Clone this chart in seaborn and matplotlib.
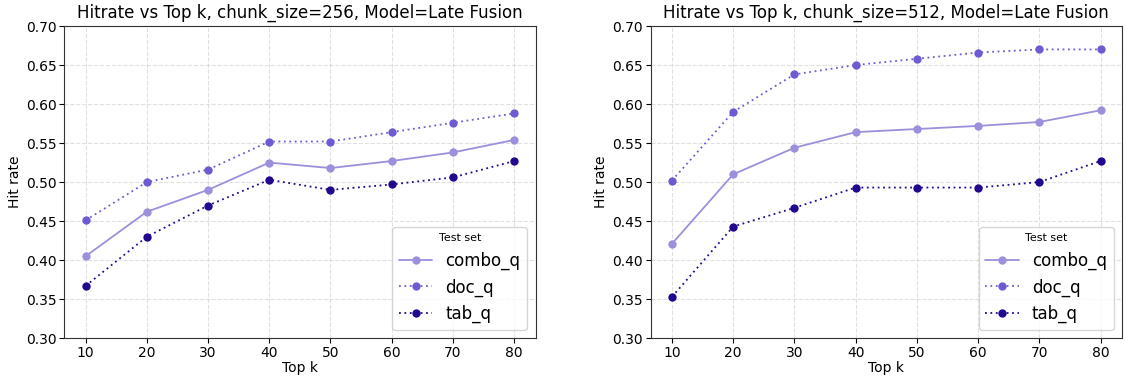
import pandas as pd
import numpy as np
import matplotlib
matplotlib.use("Agg")
import matplotlib.pyplot as plt
import seaborn as sns

top_k = [10, 20, 30, 40, 50, 60, 70, 80]
test_sets = ["combo_q", "doc_q", "tab_q"]

# chunk_size=256
combo_256 = [0.405, 0.462, 0.490, 0.525, 0.518, 0.527, 0.538, 0.554]
doc_256 = [0.451, 0.500, 0.516, 0.552, 0.552, 0.564, 0.576, 0.588]
tab_256 = [0.367, 0.430, 0.470, 0.503, 0.490, 0.497, 0.506, 0.527]

# chunk_size=512
combo_512 = [0.421, 0.510, 0.544, 0.564, 0.568, 0.572, 0.577, 0.592]
doc_512 = [0.502, 0.590, 0.638, 0.650, 0.658, 0.666, 0.670, 0.670]
tab_512 = [0.353, 0.443, 0.467, 0.493, 0.493, 0.493, 0.500, 0.527]

colors = {"combo_q": "#9d8fdc", "doc_q": "#6f5ad2", "tab_q": "#22078f"}
dashes = {"combo_q": "", "doc_q": (1, 2), "tab_q": (1, 2)}

sns.set_style("ticks")
plt.rcParams["font.family"] = ["DejaVu Sans"]
plt.rcParams.update({
    "axes.edgecolor": "#333333",
    "text.color": "black",
    "axes.labelcolor": "black",
    "xtick.color": "black",
    "ytick.color": "black",
})


def make_df(combo, doc, tab):
    rows = []
    for name, vals in zip(test_sets, [combo, doc, tab]):
        for k, v in zip(top_k, vals):
            rows.append({"Top k": k, "Hit rate": v, "Test set": name})
    return pd.DataFrame(rows)


panels = [
    (256, make_df(combo_256, doc_256, tab_256)),
    (512, make_df(combo_512, doc_512, tab_512)),
]

fig, axes = plt.subplots(1, 2, figsize=(11.26, 3.77), dpi=100)
for ax, (chunk, df) in zip(axes, panels):
    sns.lineplot(data=df, x="Top k", y="Hit rate", hue="Test set", style="Test set",
                 palette=colors, dashes=dashes, markers={s: "o" for s in test_sets},
                 markersize=6, markeredgewidth=0, linewidth=1.3, ax=ax)
    ax.set_title(f"Hitrate vs Top k, chunk_size={chunk}, Model=Late Fusion", fontsize=12)
    ax.set_ylim(0.30, 0.70)
    ax.set_xticks(top_k)
    ax.set_yticks(np.arange(0.30, 0.701, 0.05))
    ax.set_yticklabels([f"{t:.2f}" for t in np.arange(0.30, 0.701, 0.05)])
    ax.tick_params(labelsize=10, length=3.5, pad=2)
    ax.set_xlabel("Top k", fontsize=10, labelpad=1)
    ax.set_ylabel("Hit rate", fontsize=10, labelpad=3)
    ax.grid(True, linestyle="--", color="#cccccc", alpha=0.6)
    ax.legend(title="Test set", loc="lower right", fontsize=12, title_fontsize=8)

plt.subplots_adjust(left=0.057, right=0.9964, top=0.931, bottom=0.103, wspace=0.244)
fig.savefig("out.png", dpi=100)
